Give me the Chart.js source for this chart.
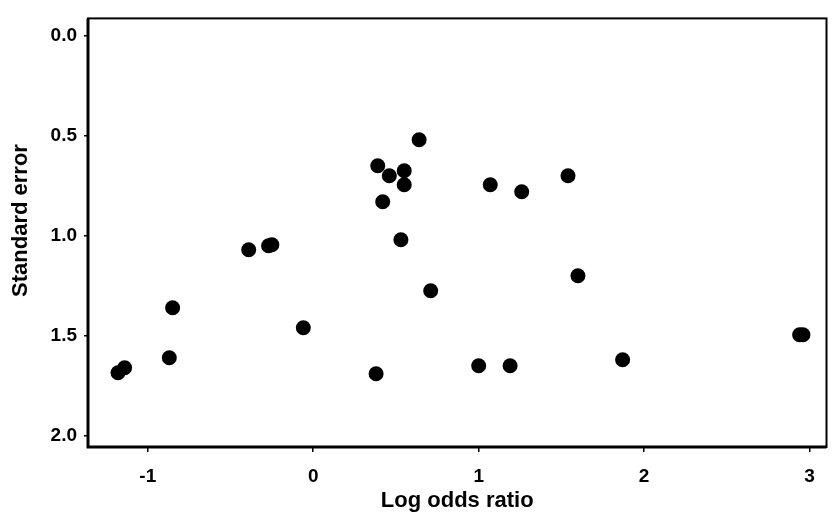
<!DOCTYPE html>
<html>
<head>
<meta charset="utf-8">
<script src="https://cdn.jsdelivr.net/npm/chart.js@4.4.1/dist/chart.umd.min.js"></script>
<style>
    html, body { margin: 0; padding: 0; background: #fff; }
    #wrap { width: 834px; height: 522px; }
</style>
</head>
<body>
<div id="wrap"><canvas id="funnel"></canvas></div>
<script>
// Data
const logOdds = [-1.18, -1.14, -0.85, -0.87, -0.06, -0.39, -0.27, -0.25, 0.39, 0.46, 0.55, 0.55, 0.42, 0.53, 0.64,
    1.07, 1.26, 1.54, 0.71, 1.60, 1.00, 1.19, 1.87, 2.94, 2.96, 0.38];
const stdErr = [1.685, 1.66, 1.36, 1.61, 1.46, 1.07, 1.05, 1.045, 0.65, 0.70, 0.675, 0.745, 0.83, 1.02, 0.52,
    0.745, 0.78, 0.70, 1.275, 1.20, 1.65, 1.65, 1.62, 1.495, 1.495, 1.69];
const xTicks = [-1, 0, 1, 2, 3];
const yTicks = [0, 0.5, 1.0, 1.5, 2.0];

const points = logOdds.map((x, i) => ({ x: x, y: stdErr[i] }));

const fontFamily = '"Liberation Sans", Arial, sans-serif';

// Box round the plot area
const frame = {
    id: 'frame',
    afterDraw(chart) {
        const { ctx, chartArea: a } = chart;
        ctx.save();
        ctx.strokeStyle = '#000';
        ctx.lineWidth = 2;
        ctx.strokeRect(a.left, a.top, a.right - a.left, a.bottom - a.top);
        ctx.lineWidth = 3;
        ctx.beginPath();
        ctx.moveTo(a.left, a.top);
        ctx.lineTo(a.left, a.bottom);
        ctx.lineTo(a.right, a.bottom);
        ctx.stroke();
        ctx.restore();
    }
};

new Chart(document.getElementById('funnel'), {
    type: 'scatter',
    data: {
        datasets: [{
            data: points,
            backgroundColor: '#000',
            borderWidth: 0,
            pointRadius: 7.5,
            pointHoverRadius: 7.5
        }]
    },
    options: {
        responsive: true,
        maintainAspectRatio: false,
        animation: false,
        layout: { padding: { left: 0, top: 9, right: 5, bottom: 0 } },
        plugins: {
            legend: { display: false },
            tooltip: { enabled: false }
        },
        scales: {
            x: {
                type: 'linear',
                min: -1.3614,
                max: 3.1024,
                afterBuildTicks: s => { s.ticks = xTicks.map(v => ({ value: v })); },
                afterFit: s => { s.height = 75; },
                grid: { drawOnChartArea: false, drawTicks: true, tickLength: 5, color: '#000', lineWidth: 1.5 },
                border: { display: false },
                ticks: {
                    color: '#000',
                    padding: 13,
                    maxRotation: 0,
                    font: { family: fontFamily, size: 19, weight: 'bold' },
                    callback: v => String(v)
                },
                title: {
                    display: true,
                    text: 'Log odds ratio',
                    color: '#000',
                    padding: { top: 0, bottom: 8 },
                    font: { family: fontFamily, size: 22, weight: 'bold' }
                }
            },
            y: {
                type: 'linear',
                reverse: true,
                min: -0.0864,
                max: 2.0564,
                afterBuildTicks: s => { s.ticks = yTicks.map(v => ({ value: v })); },
                afterFit: s => { s.width = 88; },
                grid: { drawOnChartArea: false, drawTicks: true, tickLength: 4, color: '#000', lineWidth: 1.5 },
                border: { display: false },
                ticks: {
                    color: '#000',
                    padding: 7,
                    font: { family: fontFamily, size: 19, weight: 'bold' },
                    callback: v => Number(v).toFixed(1)
                },
                title: {
                    display: true,
                    // leading spaces nudge the title up a bit, as in the original
                    text: '    Standard error',
                    color: '#000',
                    padding: { top: 8, bottom: 0 },
                    font: { family: fontFamily, size: 22, weight: 'bold' }
                }
            }
        }
    },
    plugins: [frame]
});
</script>
</body>
</html>
